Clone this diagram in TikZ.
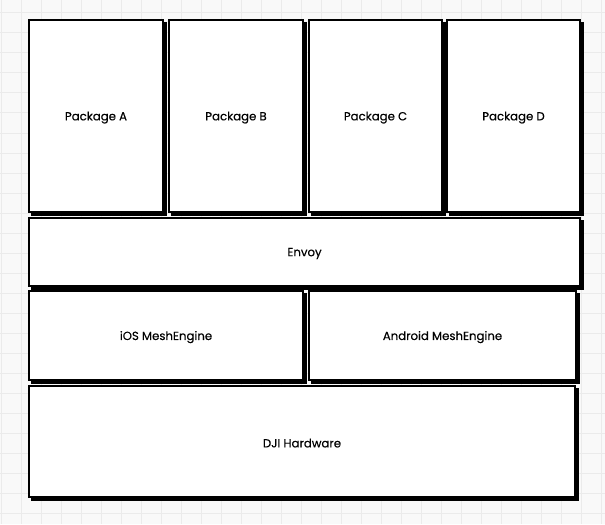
\documentclass[tikz,border=0pt]{standalone}
\usepackage{fontspec}
\setmainfont{Poppins}
\newfontfamily\layerfont{Poppins}[FakeBold=0.3]
\definecolor{gridbg}{HTML}{F9F9F9}
\definecolor{gridline}{HTML}{EBEBEB}

\begin{document}
\begin{tikzpicture}[x=0.75pt, y=-0.75pt,
    box/.style={draw=black, fill=white, line width=1.1pt},
    boxshade/.style={draw=black, line width=3pt, line cap=butt, line join=miter},
    layertext/.style={font=\layerfont\fontsize{8.8}{10}\selectfont, text=black, yshift=-1.2pt}]
    \useasboundingbox (0,0) rectangle (605,524);
    % background with grid
    \fill[gridbg] (0,0) rectangle (605,524);
    \foreach \gx in {1,21,...,601} \draw[gridline, line width=0.75pt] (\gx,0) -- (\gx,524);
    \foreach \gy in {13,33,...,513} \draw[gridline, line width=0.75pt] (0,\gy) -- (605,\gy);
    % layers: name / left / top / right / bottom / text
    \foreach \name/\xa/\ya/\xb/\yb/\txt in {
        pkgA/29/20/163/212/Package A,
        pkgB/169/20/303/212/Package B,
        pkgC/309/20/442/212/Package C,
        pkgD/447/20/580/212/Package D,
        envoy/29/218/580/286/Envoy,
        iosMesh/29/291/303/380/iOS MeshEngine,
        androidMesh/309/291/576/380/Android MeshEngine,
        djiHw/29/386/575/497/DJI Hardware}
    {
        \draw[box] (\xa,\ya) rectangle (\xb,\yb);
        \draw[boxshade] (\xb+1.5,\ya+2) -- (\xb+1.5,\yb+1.5) -- (\xa+2,\yb+1.5); % heavy right and bottom edge
        \node[layertext] (\name) at ({(\xa+\xb)/2},{(\ya+\yb)/2}) {\txt};
    }
\end{tikzpicture}
\end{document}
